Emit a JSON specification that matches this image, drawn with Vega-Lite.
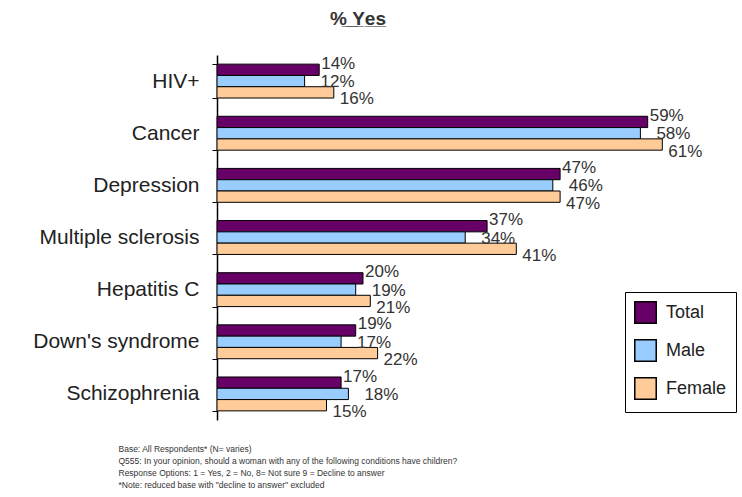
{
  "$schema": "https://vega.github.io/schema/vega-lite/v6.json",
  "width": 511,
  "height": 365,
  "autosize": {"type": "none"},
  "padding": {"left": 217, "top": 55, "right": 14, "bottom": 77},
  "background": "white",
  "title": {
    "text": "%̲ ̲Y̲e̲s̲",
    "anchor": "start",
    "frame": "group",
    "dx": 113,
    "offset": 15,
    "fontSize": 19,
    "fontWeight": "bold",
    "color": "#333333",
    "font": "Liberation Sans"
  },
  "config": {
    "view": {"stroke": null},
    "font": "Liberation Sans"
  },
  "data": {
    "values": [
      {"condition": "HIV+", "group": "Total", "value": 0.14},
      {"condition": "HIV+", "group": "Male", "value": 0.12},
      {"condition": "HIV+", "group": "Female", "value": 0.16},
      {"condition": "Cancer", "group": "Total", "value": 0.59},
      {"condition": "Cancer", "group": "Male", "value": 0.58},
      {"condition": "Cancer", "group": "Female", "value": 0.61},
      {"condition": "Depression", "group": "Total", "value": 0.47},
      {"condition": "Depression", "group": "Male", "value": 0.46},
      {"condition": "Depression", "group": "Female", "value": 0.47},
      {"condition": "Multiple sclerosis", "group": "Total", "value": 0.37},
      {"condition": "Multiple sclerosis", "group": "Male", "value": 0.34},
      {"condition": "Multiple sclerosis", "group": "Female", "value": 0.41},
      {"condition": "Hepatitis C", "group": "Total", "value": 0.20},
      {"condition": "Hepatitis C", "group": "Male", "value": 0.19},
      {"condition": "Hepatitis C", "group": "Female", "value": 0.21},
      {"condition": "Down's syndrome", "group": "Total", "value": 0.19},
      {"condition": "Down's syndrome", "group": "Male", "value": 0.17},
      {"condition": "Down's syndrome", "group": "Female", "value": 0.22},
      {"condition": "Schizophrenia", "group": "Total", "value": 0.17},
      {"condition": "Schizophrenia", "group": "Male", "value": 0.18},
      {"condition": "Schizophrenia", "group": "Female", "value": 0.15}
    ]
  },
  "encoding": {
    "y": {
      "field": "condition",
      "type": "nominal",
      "sort": ["HIV+", "Cancer", "Depression", "Multiple sclerosis", "Hepatitis C", "Down's syndrome", "Schizophrenia"],
      "scale": {"paddingInner": 0.35, "paddingOuter": 0.175},
      "axis": {
        "title": null,
        "labelFontSize": 21,
        "labelColor": "#222222",
        "domainColor": "black",
        "domainWidth": 1.5,
        "tickColor": "black",
        "tickBand": "extent",
        "tickSize": 5,
        "labelPadding": 13,
        "labelLimit": 250
      }
    },
    "yOffset": {"field": "group", "type": "nominal", "sort": ["Total", "Male", "Female"]},
    "x": {
      "field": "value",
      "type": "quantitative",
      "scale": {"domain": [0, 0.7], "nice": false},
      "axis": {
        "labels": false,
        "ticks": false,
        "domain": false,
        "grid": false,
        "title": [
          "Base: All Respondents* (N= varies)",
          "Q555: In your opinion, should a woman with any of the following conditions have children?",
          "Response Options: 1 = Yes, 2 = No, 8= Not sure 9 = Decline to answer",
          "*Note: reduced base with \"decline to answer\" excluded"
        ],
        "titleFontSize": 8.5,
        "titleFontWeight": "normal",
        "titleColor": "#333333",
        "titleAnchor": "start",
        "titleAlign": "left",
        "titleBaseline": "top",
        "titleX": -99,
        "titleY": 24,
        "titleLineHeight": 12
      }
    }
  },
  "layer": [
    {
      "mark": {"type": "bar", "stroke": "black", "strokeWidth": 1},
      "encoding": {
        "color": {
          "field": "group",
          "type": "nominal",
          "sort": ["Total", "Male", "Female"],
          "scale": {"domain": ["Total", "Male", "Female"], "range": ["#660066", "#99ccff", "#ffcc99"]},
          "legend": {
            "title": null,
            "orient": "none",
            "legendX": 408,
            "legendY": 237,
            "direction": "vertical",
            "strokeColor": "black",
            "fillColor": "white",
            "padding": 9,
            "symbolType": "square",
            "symbolSize": 460,
            "symbolStrokeColor": "black",
            "symbolStrokeWidth": 1.5,
            "symbolOpacity": 1,
            "labelFontSize": 18,
            "labelColor": "#222222",
            "rowPadding": 9,
            "labelOffset": 9
          }
        }
      }
    },
    {
      "transform": [{"filter": "datum.group === 'Total'"}],
      "mark": {"type": "text", "align": "left", "baseline": "middle", "dx": 2, "dy": -6, "fontSize": 17, "color": "#333333"},
      "encoding": {
        "text": {"field": "value", "type": "quantitative", "format": ".0%"}
      }
    },
    {
      "transform": [{"filter": "datum.group === 'Male'"}],
      "mark": {"type": "text", "align": "left", "baseline": "middle", "dx": 16, "dy": 1, "fontSize": 17, "color": "#333333"},
      "encoding": {
        "text": {"field": "value", "type": "quantitative", "format": ".0%"}
      }
    },
    {
      "transform": [{"filter": "datum.group === 'Female'"}],
      "mark": {"type": "text", "align": "left", "baseline": "middle", "dx": 6, "dy": 7, "fontSize": 17, "color": "#333333"},
      "encoding": {
        "text": {"field": "value", "type": "quantitative", "format": ".0%"}
      }
    }
  ]
}
